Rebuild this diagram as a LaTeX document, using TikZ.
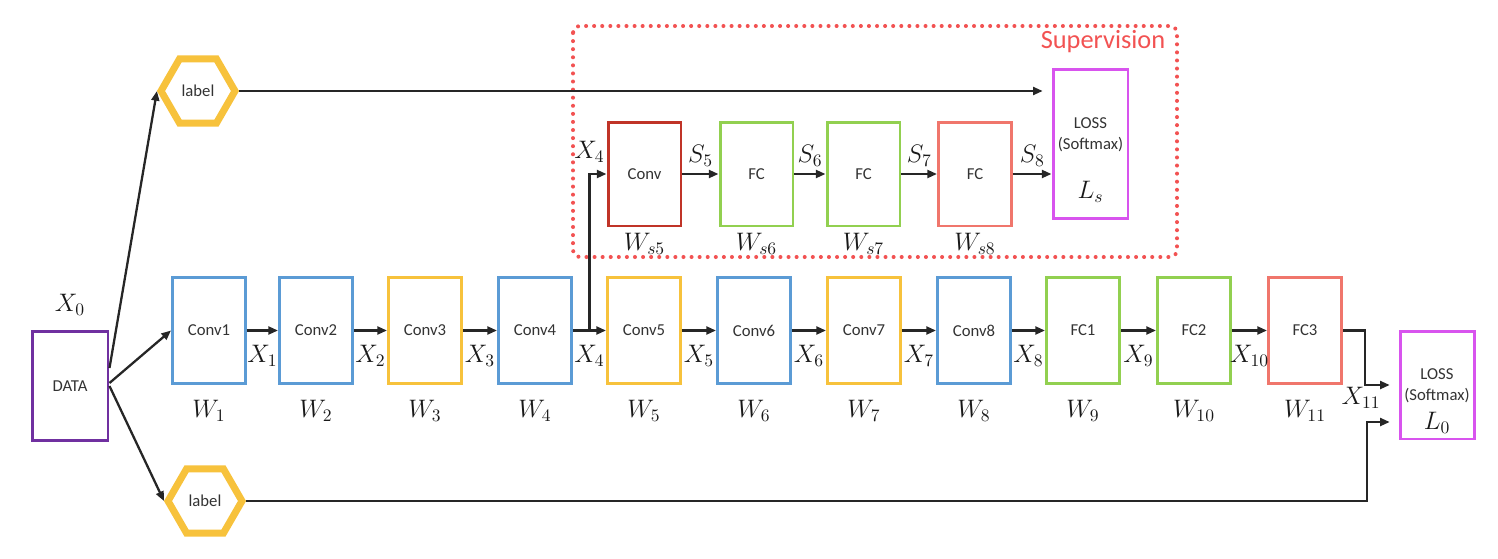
\documentclass[tikz,border=0pt]{standalone}
\usepackage{fontspec}
\setmainfont{Carlito}
\usetikzlibrary{arrows.meta,shapes.geometric,calc}
\definecolor{cblue}{RGB}{91,155,213}
\definecolor{cyel}{RGB}{247,194,60}
\definecolor{cgreen}{RGB}{146,208,80}
\definecolor{csalmon}{RGB}{240,118,108}
\definecolor{cdred}{RGB}{192,52,40}
\definecolor{cmag}{RGB}{216,84,238}
\definecolor{cpurp}{RGB}{112,48,160}
\definecolor{supred}{RGB}{242,82,82}
\begin{document}
\begin{tikzpicture}[x=0.02cm,y=-0.02cm,
  blk/.style={draw,line width=1.7pt,minimum width=1.46cm,minimum height=2.12cm,inner sep=0pt,
    font=\fontsize{9.5}{11}\selectfont,text=black!80},
  sblk/.style={blk,minimum height=2.08cm},
  hex/.style={regular polygon,regular polygon sides=6,draw=cyel,line width=4pt,minimum size=1.48cm,
    inner sep=0pt,font=\fontsize{9.5}{11}\selectfont,text=black!80},
  arr/.style={line width=1.3pt,draw=black!85,-{Triangle[length=5.5pt,width=4.5pt]}},
  ml/.style={font=\fontsize{14.5}{16}\selectfont,text=black!90},
  txt/.style={font=\fontsize{9.5}{11}\selectfont,text=black!80,align=center,inner sep=0pt}]
\useasboundingbox (0,0) rectangle (1498,558);

% supervision frame
\draw[supred,line width=2.3pt,dash pattern=on 0pt off 4.6pt,line cap=round,rounded corners=4pt]
  (573,26) rectangle (1177,257);
\node[text=supred,font=\fontsize{15}{17}\selectfont] (suptitle) at (1103,42) {Supervision};

% data and labels
\node[blk,draw=cpurp,minimum width=1.52cm,minimum height=2.18cm] (data) at (70,386) {DATA};
\node[ml] (x0) at (70,305) {$X_0$};
\node[hex] (lab1) at (198,91) {label};
\node[hex] (lab2) at (205,501) {label};

% main row
\foreach \n/\l/\c/\t in {1/172/cblue/Conv1, 2/279/cblue/Conv2, 3/388/cyel/Conv3, 4/498/cblue/Conv4,
   5/607/cyel/Conv5, 6/717/cblue/Conv6, 7/827/cyel/Conv7, 8/937/cblue/Conv8,
   9/1046/cgreen/FC1, 10/1157/cgreen/FC2, 11/1268/csalmon/FC3}{
  \node[blk,draw=\c] (m\n) at (\l+37,330.5) {\t};
  \node[ml] (w\n) at ($(m\n)+(0,80)$) {$W_{\n}$};
}
\foreach \a/\b in {1/2,2/3,3/4,4/5,5/6,6/7,7/8,8/9,9/10,10/11}{
  \draw[arr] (m\a) -- (m\b);
  \node[ml] (x\a) at ($(m\a.east)!0.5!(m\b.west)+(0,25)$) {$X_{\a}$};
}

% data connectors
\draw[arr] ($(data.east)+(0,-18)$) -- (lab1.west);
\draw[arr] ($(data.east)+(0,-3)$) -- (m1.west);
\draw[arr] (data.east) -- (lab2.west);

% supervision branch
\node[sblk,draw=cdred] (s5) at (644.5,174) {Conv};
\node[sblk,draw=cgreen] (s6) at (756.5,174) {FC};
\node[sblk,draw=cgreen] (s7) at (863.5,174) {FC};
\node[sblk,draw=csalmon] (s8) at (975,174) {FC};
\node[blk,draw=cmag,minimum width=1.5cm,minimum height=3.0cm] (ls) at (1090.5,144) {};
\node[txt] (lst) at (1090.5,135) {LOSS\\[1pt](Softmax)};
\node[ml] (lsl) at (1090.5,192) {$L_s$};

\coordinate (b4) at ($(m4.east)!0.5!(m5.west)$);
\draw[arr] (b4) |- (s5.west);
\node[ml] (x4s) at ($(b4 |- s5.west)+(0,-22)$) {$X_4$};
\foreach \a/\b in {5/6,6/7,7/8}{
  \draw[arr] (s\a) -- (s\b);
  \node[ml] (sl\a) at ($(s\a.east)!0.5!(s\b.west)+(0,-18)$) {$S_{\a}$};
}
\draw[arr] (s8.east) -- (s8.east -| ls.west);
\node[ml] (sl8) at ($(s8.east)!0.5!(s8.east -| ls.west)+(0,-18)$) {$S_{8}$};
\foreach \n in {5,6,7,8}{
  \node[ml] (ws\n) at ($(s\n)+(0,70)$) {$W_{s\n}$};
}

% top label line
\draw[arr,shorten >=5pt] (lab1.east) -- (lab1.east -| ls.west);

% final loss
\node[blk,draw=cmag,minimum width=1.48cm,minimum height=2.16cm] (l0) at (1437,385) {};
\node[txt] (l0t) at (1437,386) {LOSS\\[1pt](Softmax)};
\node[ml] (l0l) at (1437,423) {$L_0$};
\coordinate (j1) at (1365,385);
\draw[arr,shorten >=5pt] (m11.east) -| (j1) -- (l0.west);
\node[ml] (x11) at (1361,398) {$X_{11}$};
\coordinate (j2) at (1367,422);
\draw[arr,shorten >=5pt] (lab2.east) -| (j2) -- ($(l0.west)+(0,37)$);
\end{tikzpicture}
\end{document}
